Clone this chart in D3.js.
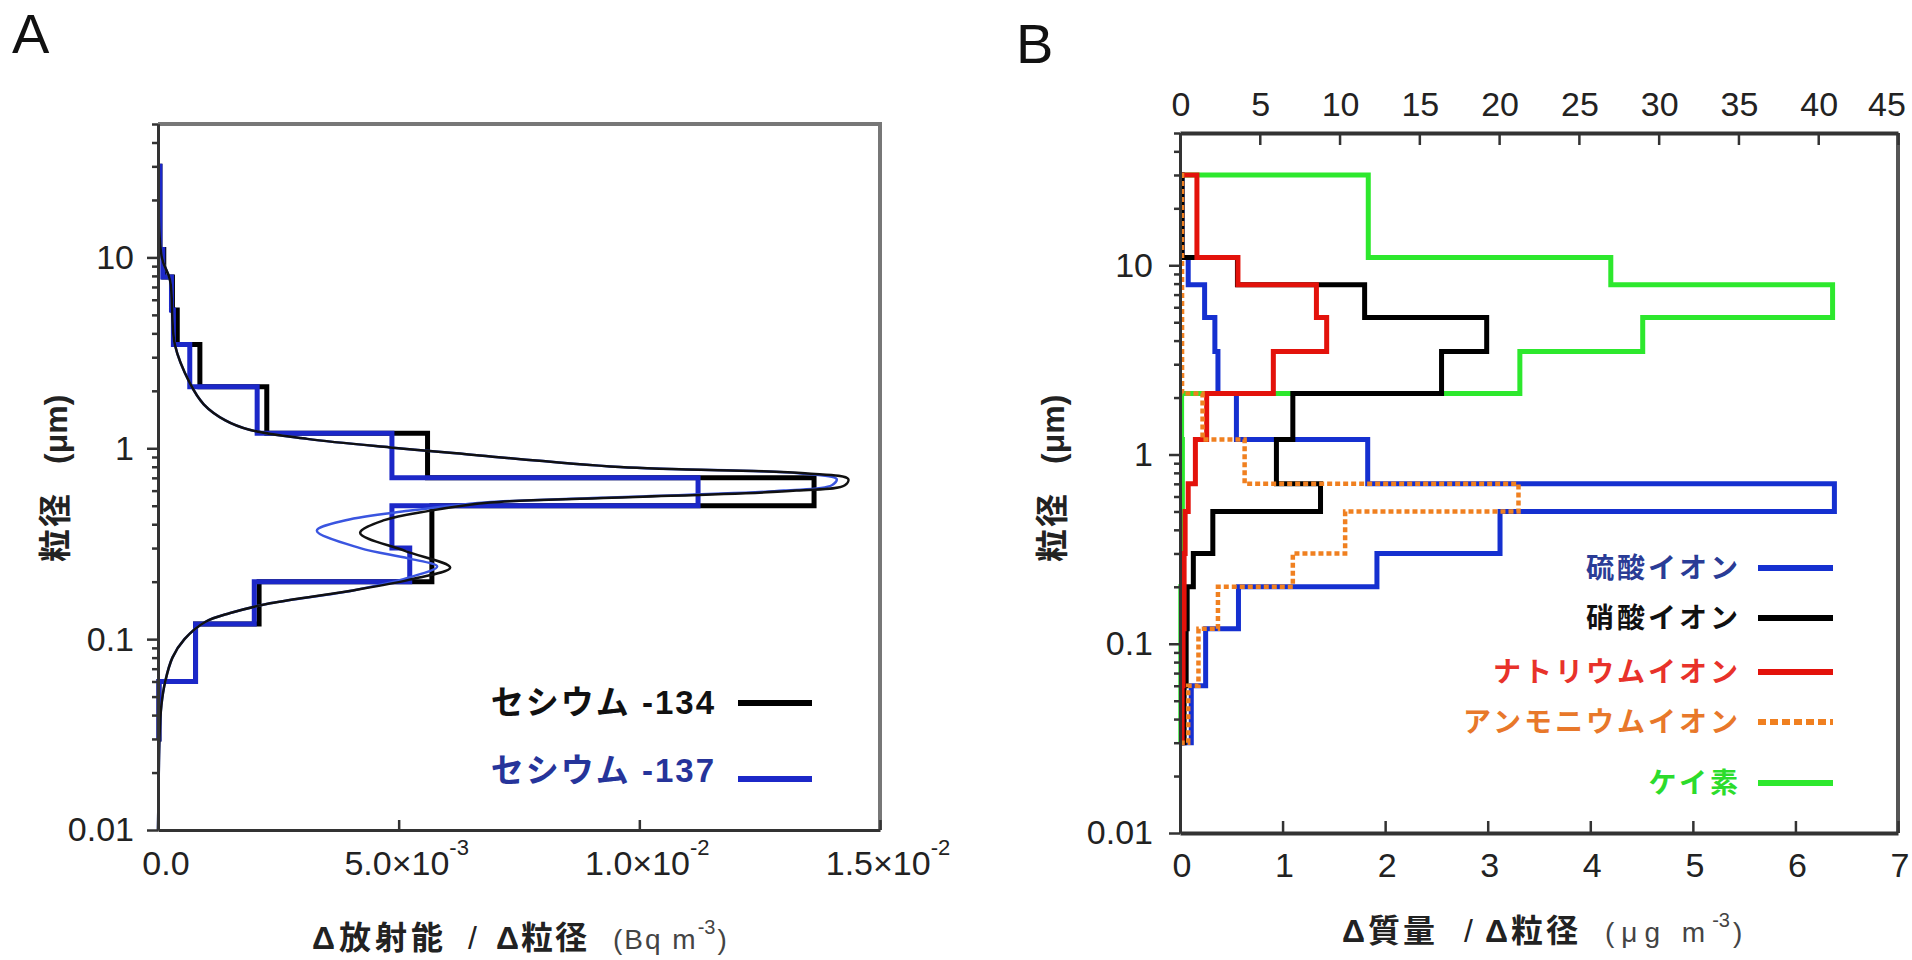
<!DOCTYPE html>
<html>
<head>
<meta charset="utf-8">
<script src="https://cdn.jsdelivr.net/npm/d3@7"></script>
<style>
body { margin: 0; background: #fff; }
</style>
</head>
<body>
<script>
// impactor stage boundaries (um), largest first
const sizeEdges = [30, 11, 7.9, 5.3, 3.5, 2.1, 1.2, 0.7, 0.5, 0.3, 0.2, 0.12, 0.06, 0.03]

// panel A - d(activity)/d(size), Bq m-3, one value per stage
const cs134 = [0.00004, 0.00012, 0.0003, 0.0004, 0.00087, 0.00226, 0.0056, 0.01363, 0.00569, 0.00569, 0.0021, 0.00078, 0.00002]
const cs137 = [0.00004, 0.0001, 0.00028, 0.00032, 0.00066, 0.00206, 0.00486, 0.01122, 0.00486, 0.00523, 0.002, 0.00078, 0.00002]

// fitted curves [size um, value]
const fit134 = [[30, 0.00001], [10, 0.00008], [7.6, 0.00025], [3.5, 0.00035], [2.2, 0.00066], [1.7, 0.00095],
  [1.4, 0.0014], [1.25, 0.0019], [1.12, 0.0031], [1.01, 0.00482], [0.944, 0.00613], [0.797, 0.0096],
  [0.74, 0.01344], [0.69, 0.01434], [0.64, 0.01427], [0.6, 0.01326], [0.55, 0.00943], [0.52, 0.0069],
  [0.47, 0.00563], [0.42, 0.0047], [0.36, 0.0042], [0.29, 0.00513], [0.237, 0.00607], [0.205, 0.00523],
  [0.18, 0.00405], [0.154, 0.00233], [0.137, 0.0015], [0.123, 0.00098], [0.1, 0.00055], [0.08, 0.0003],
  [0.06, 0.00015], [0.045, 0.00007], [0.03, 0.00003], [0.015, 0.00001], [0.01, 0]]
const fit137 = [[30, 0.00001], [10, 0.00008], [7.6, 0.00025], [3.5, 0.00035], [2.2, 0.00066], [1.7, 0.00095],
  [1.4, 0.0014], [1.25, 0.0019], [1.12, 0.0031], [1.01, 0.00482], [0.944, 0.00613], [0.797, 0.0096],
  [0.74, 0.0133], [0.69, 0.0141], [0.64, 0.014], [0.6, 0.013], [0.55, 0.0092], [0.52, 0.0068],
  [0.47, 0.0052], [0.42, 0.0039], [0.37, 0.0033], [0.3, 0.0042], [0.265, 0.0052], [0.24, 0.0058], [0.21, 0.0052],
  [0.18, 0.00405], [0.154, 0.00233], [0.137, 0.0015], [0.123, 0.00098], [0.1, 0.00055], [0.08, 0.0003],
  [0.06, 0.00015], [0.045, 0.00007], [0.03, 0.00003], [0.015, 0.00001], [0.01, 0]]

// panel B - d(mass)/d(size), ug m-3 (silicon on the top axis)
const sulfate  = [0.02, 0.08, 0.24, 0.34, 0.37, 0.55, 1.83, 6.38, 3.12, 1.92, 0.57, 0.25, 0.11]
const nitrate  = [0.02, 0.56, 1.80, 2.99, 2.55, 1.10, 0.94, 1.37, 0.32, 0.13, 0.07, 0.06, 0.04]
const sodium   = [0.165, 0.565, 1.33, 1.43, 0.91, 0.26, 0.15, 0.08, 0.05, 0.04, 0.04, 0.03, 0.02]
const ammonium = [0.02, 0.02, 0.02, 0.02, 0.02, 0.22, 0.63, 3.30, 1.61, 1.10, 0.37, 0.18, 0.08]
const silicon  = [11.8, 27.0, 40.9, 29.0, 21.3, 0.1, 0.15, 0.15, 0.1, 0.1, 0.05, 0.05, 0.05]

// ticks
const yTicks = [0.01, 0.1, 1, 10]
const yLabels = ["0.01", "0.1", "1", "10"]
const aXTicks = [0, 0.005, 0.01, 0.015]
const aXLabels = ["0.0", "5.0×10", "1.0×10", "1.5×10"]
const aXExp = ["", "-3", "-2", "-2"]
const bTopTicks = [0, 5, 10, 15, 20, 25, 30, 35, 40, 45]
const bBottomTicks = [0, 1, 2, 3, 4, 5, 6, 7]

const aLegend = ["セシウム -134", "セシウム -137"]
const bLegend = ["硫酸イオン", "硝酸イオン", "ナトリウムイオン", "アンモニウムイオン", "ケイ素"]

const numFont = '"Liberation Sans", Arial, sans-serif'
const jpFont = '"Liberation Sans", "Noto Sans CJK JP", sans-serif'

const w = 1912
const h = 960

const svg = d3.select("body").append("svg")
  .attr("width", w)
  .attr("height", h)
  .style("background", "#fff")

// scales
const xA = d3.scaleLinear().domain([0, 0.015]).range([158, 880])
const yA = d3.scaleLog().domain([0.01, 50]).range([830, 124])
const xB = d3.scaleLinear().domain([0, 7]).range([1180, 1898])
const xBt = d3.scaleLinear().domain([0, 45]).range([1180, 1898])
const yB = d3.scaleLog().domain([0.01, 50]).range([833, 133])

function stepPoints(vals) {
  const pts = [[0, sizeEdges[0]]]
  vals.forEach((v, i) => {
    pts.push([v, sizeEdges[i]])
    pts.push([v, sizeEdges[i + 1]])
  })
  pts.push([0, sizeEdges[sizeEdges.length - 1]])
  return pts
}

function styleAxis(g, color, width) {
  g.select(".domain").attr("stroke", color).attr("stroke-width", width)
  g.selectAll(".tick line").attr("stroke", color).attr("stroke-width", 2.5)
}

function leftAxis(y, x0, pad) {
  const minor = y.ticks().filter(d => !yTicks.includes(d))
  const gm = svg.append("g").attr("transform", "translate(" + x0 + ",0)")
    .call(d3.axisLeft(y).tickValues(minor).tickSize(6).tickSizeOuter(0).tickFormat(""))
  styleAxis(gm, "#333", 3)
  const g = svg.append("g").attr("transform", "translate(" + x0 + ",0)")
    .call(d3.axisLeft(y).tickValues(yTicks).tickSize(11).tickSizeOuter(0).tickPadding(pad)
      .tickFormat((d, i) => yLabels[i]))
  styleAxis(g, "#333", 3)
  g.selectAll(".tick text").attr("font-family", numFont).attr("font-size", 34).attr("fill", "#222")
}

function yTitle(xc) {
  svg.append("text")
    .attr("transform", "translate(" + (xc + 12) + ",562) rotate(-90)")
    .attr("font-family", jpFont).attr("font-weight", 700).attr("font-size", 33)
    .attr("letter-spacing", 2).attr("fill", "#222")
    .text("粒径")
  svg.append("text")
    .attr("transform", "translate(" + (xc + 12) + ",464) rotate(-90)")
    .attr("font-family", numFont).attr("font-weight", 700).attr("font-size", 32)
    .attr("fill", "#222")
    .text("(μm)")
}

// ---------- panel A ----------
svg.append("text").attr("x", 12).attr("y", 53)
  .attr("font-family", numFont).attr("font-size", 56).attr("fill", "#111").text("A")

// gray top / right frame
svg.append("path")
  .attr("d", "M" + xA(0) + "," + yA(50) + "H" + xA(0.015) + "V" + yA(0.01))
  .attr("fill", "none").attr("stroke", "#777").attr("stroke-width", 4)

const lineA = d3.line().x(d => xA(d[0])).y(d => yA(d[1]))
const fitLineA = d3.line().x(d => xA(d[1])).y(d => yA(d[0])).curve(d3.curveCatmullRom)

svg.append("path").attr("d", lineA(stepPoints(cs134)))
  .attr("fill", "none").attr("stroke", "#000").attr("stroke-width", 5)
svg.append("path").attr("d", lineA(stepPoints(cs137)))
  .attr("fill", "none").attr("stroke", "#1c28c8").attr("stroke-width", 5)
svg.append("path").attr("d", fitLineA(fit137))
  .attr("fill", "none").attr("stroke", "#3a55e0").attr("stroke-width", 2.5)
svg.append("path").attr("d", fitLineA(fit134))
  .attr("fill", "none").attr("stroke", "#111").attr("stroke-width", 2.5)

// bottom axis A
const gAx = svg.append("g").attr("transform", "translate(0," + yA(0.01) + ")")
  .call(d3.axisBottom(xA).tickValues(aXTicks).tickSizeInner(-10).tickSizeOuter(0).tickFormat(""))
styleAxis(gAx, "#333", 3)
aXTicks.forEach((t, i) => {
  const tx = svg.append("text")
    .attr("x", xA(t) + 8).attr("y", 875)
    .attr("text-anchor", "middle")
    .attr("font-family", numFont).attr("font-size", 34).attr("fill", "#222")
  tx.append("tspan").text(aXLabels[i])
  if (aXExp[i]) {
    tx.append("tspan").attr("dy", -20).attr("font-size", 22).text(aXExp[i])
  }
})
leftAxis(yA, xA(0), 13)
yTitle(55)

// x title A
const tA = svg.append("text").attr("y", 949).attr("fill", "#222")
tA.append("tspan").attr("x", 312).attr("font-family", jpFont).attr("font-weight", 700)
  .attr("font-size", 32).attr("letter-spacing", 4).text("Δ放射能")
tA.append("tspan").attr("x", 468).attr("font-family", numFont).attr("font-size", 32).text("/")
tA.append("tspan").attr("x", 496).attr("font-family", jpFont).attr("font-weight", 700)
  .attr("font-size", 32).attr("letter-spacing", 2).text("Δ粒径")
tA.append("tspan").attr("x", 613).attr("font-family", numFont).attr("font-size", 28)
  .attr("letter-spacing", 2).attr("fill", "#444").text("(Bq m")
tA.append("tspan").attr("dy", -15).attr("font-family", numFont).attr("font-size", 20)
  .attr("fill", "#444").text("-3")
tA.append("tspan").attr("dy", 15).attr("dx", 2).attr("font-family", numFont).attr("font-size", 28)
  .attr("fill", "#444").text(")")

// legend A
const aLegColors = ["#000", "#1c28c8"]
const aLegText = ["#111", "#26349a"]
const aLegY = [703, 779]
const aTextY = [714, 782]
aLegend.forEach((lab, i) => {
  svg.append("text").attr("x", 716).attr("y", aTextY[i]).attr("text-anchor", "end")
    .attr("font-family", jpFont).attr("font-weight", 700).attr("font-size", 33)
    .attr("letter-spacing", 2).attr("fill", aLegText[i]).text(lab)
  svg.append("line").attr("x1", 738).attr("x2", 812).attr("y1", aLegY[i]).attr("y2", aLegY[i])
    .attr("stroke", aLegColors[i]).attr("stroke-width", 6)
})

// ---------- panel B ----------
svg.append("text").attr("x", 1016).attr("y", 63)
  .attr("font-family", numFont).attr("font-size", 56).attr("fill", "#111").text("B")

svg.append("line").attr("x1", 1898).attr("x2", 1898).attr("y1", 133).attr("y2", 833)
  .attr("stroke", "#555").attr("stroke-width", 4)

const lineB = d3.line().x(d => xB(d[0])).y(d => yB(d[1]))
const lineBt = d3.line().x(d => xBt(d[0])).y(d => yB(d[1]))

svg.append("path").attr("d", lineBt(stepPoints(silicon)))
  .attr("fill", "none").attr("stroke", "#2de82d").attr("stroke-width", 5)
svg.append("path").attr("d", lineB(stepPoints(sulfate)))
  .attr("fill", "none").attr("stroke", "#1530d0").attr("stroke-width", 5)
svg.append("path").attr("d", lineB(stepPoints(nitrate)))
  .attr("fill", "none").attr("stroke", "#000").attr("stroke-width", 5)
svg.append("path").attr("d", lineB(stepPoints(sodium)))
  .attr("fill", "none").attr("stroke", "#e3120b").attr("stroke-width", 5)
svg.append("path").attr("d", lineB(stepPoints(ammonium)))
  .attr("fill", "none").attr("stroke", "#f08020").attr("stroke-width", 4.5)
  .attr("stroke-dasharray", "5,3")

// top axis B
const gBt = svg.append("g").attr("transform", "translate(0," + yB(50) + ")")
  .call(d3.axisTop(xBt).tickValues(bTopTicks).tickSizeInner(-12).tickSizeOuter(0).tickFormat(""))
styleAxis(gBt, "#333", 4)
bTopTicks.forEach(t => {
  // the last label sits against the page edge
  const dx = t === 45 ? -11 : 1
  svg.append("text").attr("x", xBt(t) + dx).attr("y", 116).attr("text-anchor", "middle")
    .attr("font-family", numFont).attr("font-size", 34).attr("fill", "#222").text(t)
})

// bottom axis B
const gBb = svg.append("g").attr("transform", "translate(0," + yB(0.01) + ")")
  .call(d3.axisBottom(xB).tickValues(bBottomTicks).tickSizeInner(-12).tickSizeOuter(0).tickFormat(""))
styleAxis(gBb, "#333", 4)
bBottomTicks.forEach(t => {
  svg.append("text").attr("x", xB(t) + 2).attr("y", 877).attr("text-anchor", "middle")
    .attr("font-family", numFont).attr("font-size", 34).attr("fill", "#222").text(t)
})
leftAxis(yB, xB(0), 16)
yTitle(1052)

// x title B
const tB = svg.append("text").attr("y", 942).attr("fill", "#222")
tB.append("tspan").attr("x", 1342).attr("font-family", jpFont).attr("font-weight", 700)
  .attr("font-size", 32).attr("letter-spacing", 3).text("Δ質量")
tB.append("tspan").attr("x", 1464).attr("font-family", numFont).attr("font-size", 32).text("/")
tB.append("tspan").attr("x", 1485).attr("font-family", jpFont).attr("font-weight", 700)
  .attr("font-size", 32).attr("letter-spacing", 3).text("Δ粒径")
tB.append("tspan").attr("x", 1605).attr("font-family", numFont).attr("font-size", 28)
  .attr("letter-spacing", 7).attr("fill", "#444").text("(μg m")
tB.append("tspan").attr("dy", -15).attr("font-family", numFont).attr("font-size", 20)
  .attr("fill", "#444").text("-3")
tB.append("tspan").attr("dy", 15).attr("dx", 3).attr("font-family", numFont).attr("font-size", 28)
  .attr("fill", "#444").text(")")

// legend B
const bLegColors = ["#1530d0", "#000", "#e3120b", "#f08020", "#2de82d"]
const bLegText = ["#2a3c96", "#111", "#e8322a", "#e8782a", "#2cdc2c"]
const bLegY = [568, 618, 672, 722, 783]
bLegend.forEach((lab, i) => {
  svg.append("text").attr("x", 1741).attr("y", bLegY[i] + 10).attr("text-anchor", "end")
    .attr("font-family", jpFont).attr("font-weight", 700).attr("font-size", 28)
    .attr("letter-spacing", 3).attr("fill", bLegText[i]).text(lab)
  const ln = svg.append("line").attr("x1", 1758).attr("x2", 1833).attr("y1", bLegY[i]).attr("y2", bLegY[i])
    .attr("stroke", bLegColors[i]).attr("stroke-width", 6)
  if (i === 3) ln.attr("stroke-dasharray", "8,4")
})
</script>
</body>
</html>
